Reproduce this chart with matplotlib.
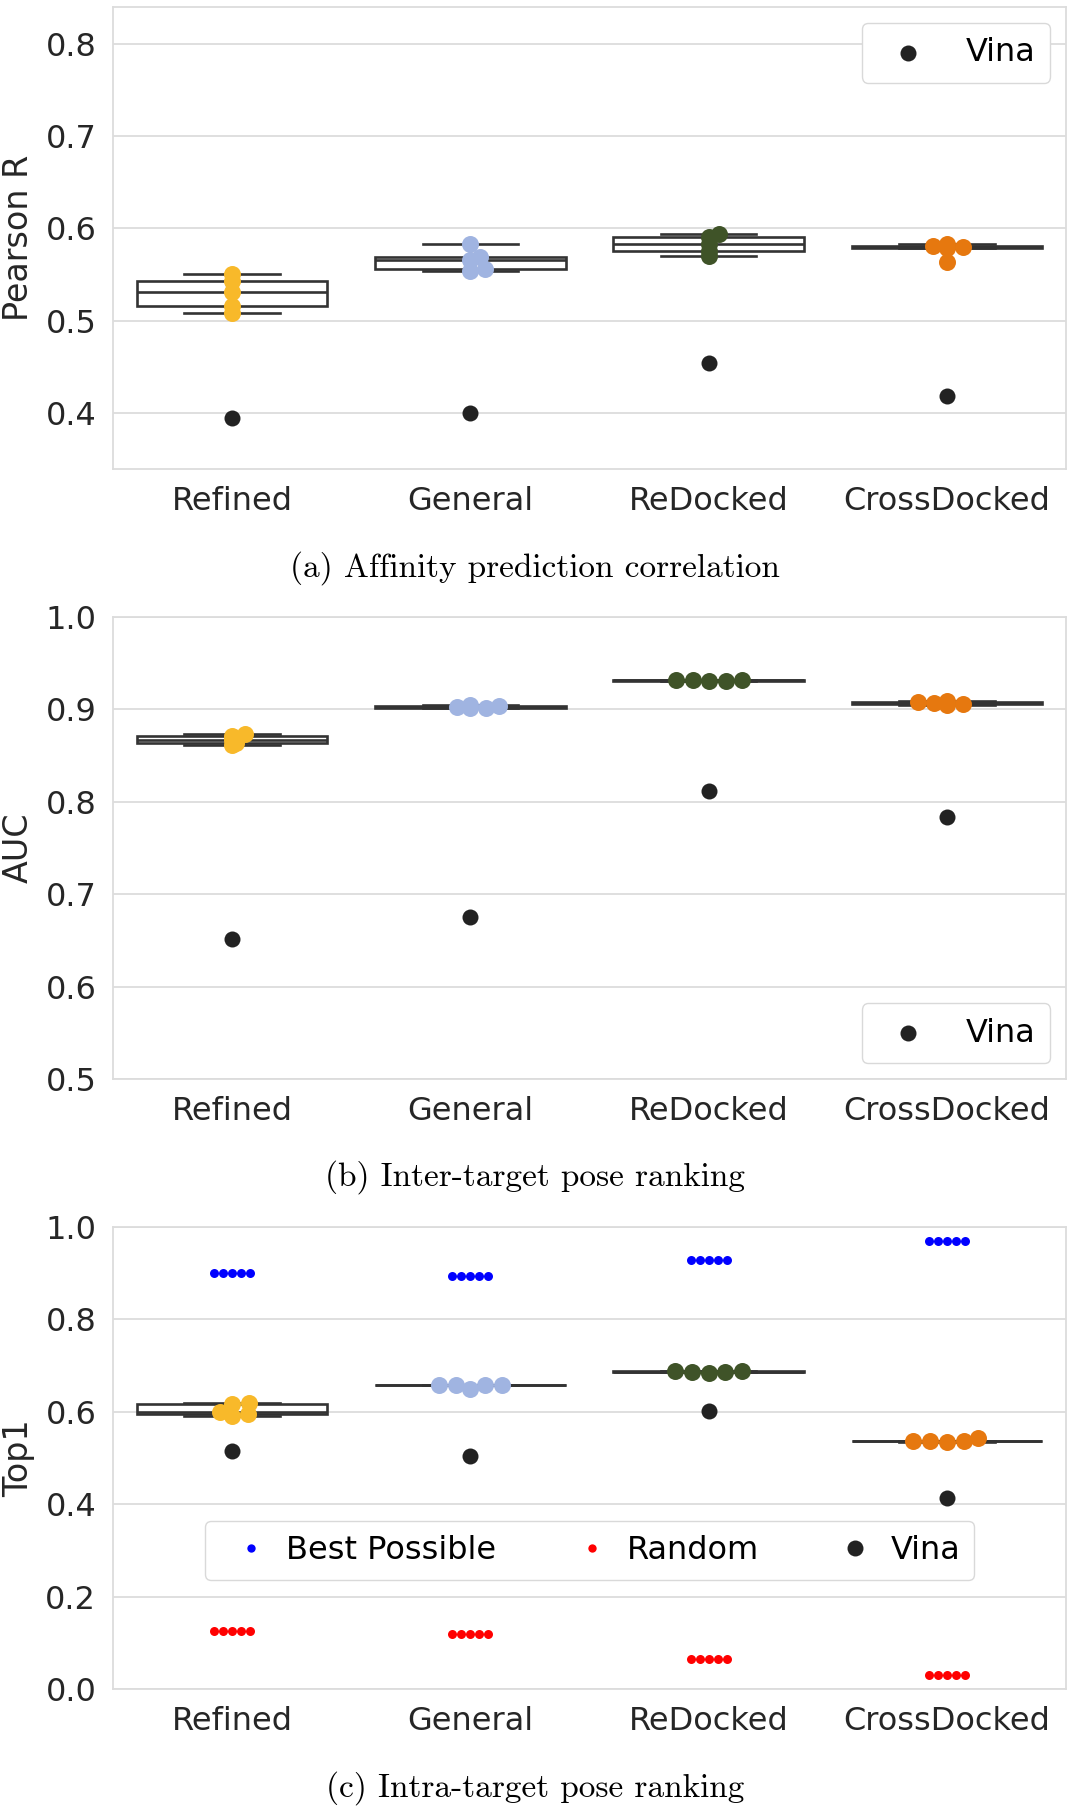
import numpy as np
import matplotlib
matplotlib.use("Agg")
import matplotlib.pyplot as plt
from matplotlib.lines import Line2D

categories = ["Refined", "General", "ReDocked", "CrossDocked"]
model_colors = ["#f8b92a", "#a0b4e1", "#3f5328", "#e6780f"]

# (a) Pearson R, five model runs per training set, plus Vina
pearson_models = [
    [0.508, 0.516, 0.531, 0.543, 0.551],
    [0.554, 0.556, 0.566, 0.569, 0.583],
    [0.570, 0.575, 0.583, 0.591, 0.594],
    [0.564, 0.579, 0.580, 0.581, 0.583],
]
pearson_vina = [0.394, 0.400, 0.454, 0.418]

# (b) AUC
auc_models = [
    [0.861, 0.864, 0.867, 0.871, 0.873],
    [0.901, 0.902, 0.903, 0.904, 0.905],
    [0.931, 0.931, 0.932, 0.932, 0.932],
    [0.905, 0.906, 0.907, 0.908, 0.909],
]
auc_vina = [0.652, 0.675, 0.812, 0.784]

# (c) Top1
top1_models = [
    [0.590, 0.596, 0.600, 0.617, 0.620],
    [0.650, 0.657, 0.658, 0.658, 0.659],
    [0.684, 0.687, 0.687, 0.688, 0.688],
    [0.535, 0.536, 0.537, 0.537, 0.544],
]
top1_vina = [0.515, 0.505, 0.601, 0.413]
top1_best = [
    [0.901, 0.901, 0.901, 0.901, 0.901],
    [0.894, 0.894, 0.894, 0.894, 0.894],
    [0.928, 0.928, 0.928, 0.928, 0.928],
    [0.970, 0.970, 0.970, 0.970, 0.970],
]
top1_random = [
    [0.125, 0.125, 0.125, 0.125, 0.125],
    [0.118, 0.118, 0.118, 0.118, 0.118],
    [0.066, 0.066, 0.066, 0.066, 0.066],
    [0.031, 0.031, 0.031, 0.031, 0.031],
]

FS = 23
TXT = "#262626"
GRID = "#dcdcdc"
BOXC = "#333333"
DPI = 100


def swarm_offsets(values, diam, xscale, yscale):
    # simple beeswarm: place points (sorted by value) as close to centre as possible
    values = np.asarray(values, dtype=float)
    offs = np.zeros(len(values))
    placed = []
    for i in np.argsort(values, kind="stable"):
        y = values[i] * yscale
        cands = [0.0]
        for px, py in placed:
            dy = abs(y - py)
            if dy < diam:
                dx = np.sqrt(diam ** 2 - dy ** 2)
                cands += [px + dx, px - dx]
        cands.sort(key=abs)
        for c in cands:
            if all((c - px) ** 2 + (y - py) ** 2 >= diam ** 2 - 1e-6 for px, py in placed):
                break
        placed.append((c, y))
        offs[i] = c / xscale
    return offs


def px_per_unit(ax):
    bb = ax.get_window_extent()
    y0, y1 = ax.get_ylim()
    return bb.width / 4.0, bb.height / (y1 - y0)


def draw_swarm(ax, groups, colors, diam_px, squeeze):
    xs, ys = px_per_unit(ax)
    size = (diam_px * 72 / DPI) ** 2
    for i, vals in enumerate(groups):
        off = swarm_offsets(vals, diam_px, xs, ys * squeeze)
        c = colors[i] if isinstance(colors, list) else colors
        ax.scatter(i + off, vals, s=size, color=c, linewidths=0, zorder=3)


def style_axes(ax, ylim, yticks, ylabel):
    ax.set_xlim(-0.5, 3.5)
    ax.set_ylim(*ylim)
    ax.set_yticks(yticks)
    ax.set_yticklabels([f"{t:.1f}" for t in yticks])
    ax.set_xticks(range(4))
    ax.set_xticklabels(categories)
    ax.set_axisbelow(True)
    ax.grid(axis="y", color=GRID, linewidth=1.3)
    for sp in ax.spines.values():
        sp.set_color(GRID)
        sp.set_linewidth(1.3)
    ax.tick_params(length=0, pad=12, labelsize=FS, labelcolor=TXT)
    ax.set_ylabel(ylabel, fontsize=24, color=TXT)
    ax.yaxis.set_label_coords(-0.082, 0.5)


def draw_boxes(ax, groups):
    lp = dict(color=BOXC, linewidth=1.9)
    ax.boxplot(groups, positions=range(4), widths=0.8, patch_artist=True,
               showfliers=False, whis=1.5,
               boxprops=dict(facecolor="white", edgecolor=BOXC, linewidth=1.9),
               medianprops=lp, whiskerprops=lp, capprops=lp, zorder=2)


fig = plt.figure(figsize=(10.7, 18.1), dpi=DPI)
left, width, height = 113 / 1070, 953 / 1070, 462 / 1810
ax_a = fig.add_axes([left, 1 - 469 / 1810, width, height])
ax_b = fig.add_axes([left, 1 - 1079 / 1810, width, height])
ax_c = fig.add_axes([left, 1 - 1689 / 1810, width, height])

vina_size = (16 * 72 / DPI) ** 2
vina_c = "#222222"
leg_kw = dict(fontsize=FS, edgecolor="#d9d9d9", framealpha=1, borderpad=0.45)

# (a)
draw_boxes(ax_a, pearson_models)
style_axes(ax_a, (0.339, 0.840), [0.4, 0.5, 0.6, 0.7, 0.8], "Pearson R")
draw_swarm(ax_a, pearson_models, model_colors, 17, 5)
ax_a.scatter(range(4), pearson_vina, s=vina_size, color=vina_c, linewidths=0, zorder=4, label="Vina")
ax_a.legend(loc="upper right", **leg_kw)

# (b)
draw_boxes(ax_b, auc_models)
style_axes(ax_b, (0.5, 1.0), [0.5, 0.6, 0.7, 0.8, 0.9, 1.0], "AUC")
draw_swarm(ax_b, auc_models, model_colors, 17, 6)
ax_b.scatter(range(4), auc_vina, s=vina_size, color=vina_c, linewidths=0, zorder=4, label="Vina")
ax_b.legend(loc="lower right", **leg_kw)

# (c)
draw_boxes(ax_c, top1_models)
style_axes(ax_c, (0.0, 1.0), [0.0, 0.2, 0.4, 0.6, 0.8, 1.0], "Top1")
draw_swarm(ax_c, top1_models, model_colors, 17, 2.5)
draw_swarm(ax_c, top1_best, "blue", 9, 1)
draw_swarm(ax_c, top1_random, "red", 9, 1)
ax_c.scatter(range(4), top1_vina, s=vina_size, color=vina_c, linewidths=0, zorder=4)
handles = [
    Line2D([], [], linestyle="none", marker="o", markersize=6, markeredgewidth=0, color="blue"),
    Line2D([], [], linestyle="none", marker="o", markersize=6, markeredgewidth=0, color="red"),
    Line2D([], [], linestyle="none", marker="o", markersize=11.5, markeredgewidth=0, color=vina_c),
]
ax_c.legend(handles, ["Best Possible", "Random", "Vina"], loc="center", bbox_to_anchor=(0.5, 0.3),
            ncol=3, handletextpad=0.1, **leg_kw)

# captions
cap = dict(family="cmr10", fontsize=24, ha="center", va="center", color="black")
fig.text(0.5, 1 - 568 / 1810, "(a) Affinity prediction correlation", **cap)
fig.text(0.5, 1 - 1177 / 1810, "(b) Inter-target pose ranking", **cap)
fig.text(0.5, 1 - 1788 / 1810, "(c) Intra-target pose ranking", **cap)

fig.savefig("out.png", dpi=DPI)
